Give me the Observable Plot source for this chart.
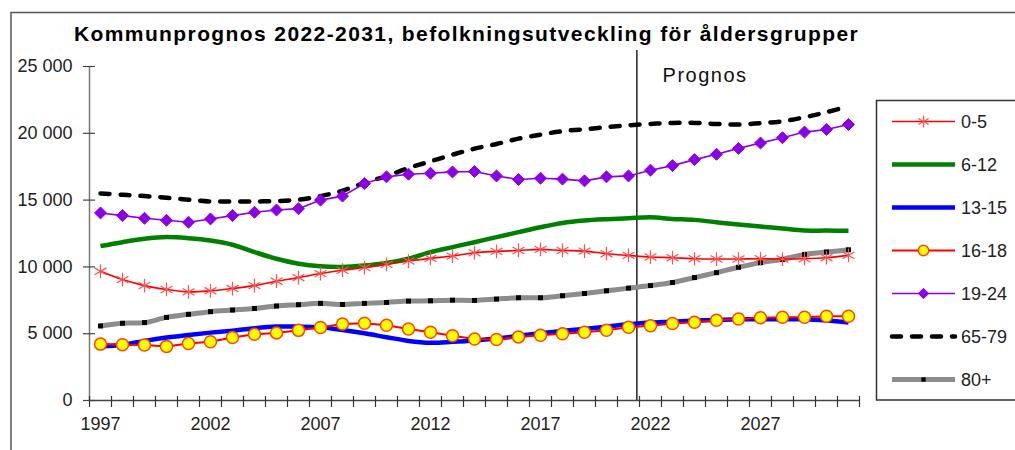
<!DOCTYPE html>
<html><head><meta charset="utf-8">
<script src="https://cdn.jsdelivr.net/npm/d3@7"></script>
<script src="https://cdn.jsdelivr.net/npm/@observablehq/plot@0.6"></script>
<style>
body{margin:0;background:#fff;}
#chart svg{display:block;overflow:visible;}
</style>
</head><body><div id="chart"></div>
<script>
// ---- data ----
const years = [1997,1998,1999,2000,2001,2002,2003,2004,2005,2006,2007,2008,2009,2010,2011,2012,2013,2014,2015,2016,2017,2018,2019,2020,2021,2022,2023,2024,2025,2026,2027,2028,2029,2030,2031];
const age0_5   = [9670,9050,8600,8310,8130,8210,8380,8600,8930,9200,9500,9750, 9950,10190,10440,10640,10810,11060,11160,11230,11310,11230,11180,10990,10860, 10740,10690,10610,10590,10590,10610,10590,10610,10690,10860];
const age6_12  = [11560,11850,12100,12230,12150,11980,11660,11110,10610,10240,10040,9990, 10100,10290,10610,11110,11480,11850,12230,12600,12970,13290,13470,13570,13640, 13710,13590,13520,13340,13170,13020,12870,12720,12720,12700];
const age13_15 = [4040,4170,4460,4710,4910,5080,5230,5410,5530,5530,5480,5280, 5030,4740,4460,4320,4390,4490,4640,4840,5030,5210,5360,5530,5700, 5830,5900,5980,6030,6080,6080,6080,6080,5980,5830];
const age16_18 = [4220,4180,4150,4050,4260,4400,4710,4960,5060,5250,5460,5730, 5780,5630,5350,5110,4850,4600,4560,4760,4890,4990,5110,5260,5480, 5600,5760,5850,6000,6100,6200,6230,6230,6300,6300];
const age19_24 = [14040,13840,13640,13490,13340,13590,13840,14090,14260,14360,15000,15300, 16240,16740,16940,17010,17110,17140,16810,16540,16640,16570,16440,16740,16810, 17240,17580,18030,18430,18870,19270,19670,20090,20290,20660];
const age65_79 = [15500,15400,15300,15180,15030,14900,14900,14900,14930,15030,15300,15700, 16300,16800,17400,17900,18400,18850,19200,19600,19900,20160,20300,20460,20600, 20700,20780,20780,20700,20660,20760,20900,21200,21580,22020];
const age80    = [5580,5780,5830,6220,6450,6650,6770,6890,7070,7170,7270,7190, 7270,7340,7440,7460,7510,7490,7590,7690,7690,7840,8010,8210,8410, 8600,8830,9200,9570,9970,10320,10560,10940,11110,11280];
const seriesNames = ["0-5","6-12","13-15","16-18","19-24","65-79","80+"];
const yTicks = [0,5000,10000,15000,20000,25000];
const xTickLabels = [1997,2002,2007,2012,2017,2022,2027];
const titleText = "Kommunprognos 2022-2031, befolkningsutveckling för åldersgrupper";
const prognosText = "Prognos";
const prognosYear = 2021.38;

// ---- styles (separate from data) ----
const styles = {
  "0-5":   {values: age0_5,   stroke:"#FF0000", width:1.6, curve:"catmull-rom", symbol:"asterisk", r:6.5, mStroke:"#FF5050", mFill:"none", mWidth:1.2},
  "6-12":  {values: age6_12,  stroke:"#008000", width:4.5, curve:"catmull-rom"},
  "13-15": {values: age13_15, stroke:"#0000FF", width:4.5, curve:"catmull-rom"},
  "16-18": {values: age16_18, stroke:"#FF0000", width:2,   curve:"linear", symbol:"circle", r:6, mStroke:"#FF4500", mFill:"#FFFF00", mWidth:1.5},
  "19-24": {values: age19_24, stroke:"#8C00E6", width:1.6, curve:"linear", symbol:"diamond2", r:5.4, mStroke:"#8C00E6", mFill:"#8C00E6", mWidth:1},
  "65-79": {values: age65_79, stroke:"#000000", width:4.5, curve:"catmull-rom", dash:"9,11", cap:"round"},
  "80+":   {values: age80,    stroke:"#8C8C8C", width:5,   curve:"catmull-rom", symbol:"square", r:2.8, mStroke:"none", mFill:"#000000", mWidth:0}
};
const drawOrder = ["80+","65-79","6-12","13-15","0-5","16-18","19-24"];
const rows = vals => years.map((year, i) => ({year, value: vals[i]}));
const fmt = d => d3.format(",")(d).replace(/,/g, " ");

const seriesMarks = [];
for (const name of drawOrder) {
  const s = styles[name];
  seriesMarks.push(Plot.line(rows(s.values), {x:"year", y:"value", stroke:s.stroke, strokeWidth:s.width, curve:s.curve,
    strokeDasharray: s.dash, strokeLinecap: s.cap || "butt", strokeLinejoin:"round"}));
  if (s.symbol) seriesMarks.push(Plot.dot(rows(s.values), {x:"year", y:"value", symbol:s.symbol, r:s.r,
    stroke:s.mStroke, fill:s.mFill, strokeWidth:s.mWidth}));
}

const xTickMarks = d3.range(1996.5, 2032, 1);
const font = "'Liberation Sans', Arial, sans-serif";

const plot = Plot.plot({
  width: 1015, height: 450,
  marginLeft: 89, marginRight: 156, marginTop: 66, marginBottom: 50,
  style: {fontFamily: font, fontSize: "18px", color: "#222", background: "#fff", overflow: "visible"},
  x: {domain: [1996.5, 2031.5]},
  y: {domain: [0, 25000]},
  marks: [
    Plot.axisY({ticks: yTicks, tickSize: 0, tickPadding: 17, tickFormat: fmt, fontSize: 18, label: null}),
    Plot.axisX({ticks: xTickLabels, tickSize: 0, tickPadding: 17, tickFormat: d => String(d), fontSize: 18, label: null}),
    Plot.ruleX([1996.5], {y1: 0, y2: 25000, stroke: "#777", strokeWidth: 1.5}),
    Plot.ruleY([0], {x1: 1996.5, x2: 2031.5, stroke: "#444", strokeWidth: 1.5}),
    Plot.ruleY(yTicks, {y: d => d, x1: 1996.5, x2: 1996.5, insetLeft: 6, insetRight: 6, stroke: "#444", strokeWidth: 1.2}),
    Plot.ruleX(xTickMarks, {x: d => d, y1: 0, y2: 0, insetTop: 7, insetBottom: 4, stroke: "#333", strokeWidth: 1.2}),
    Plot.ruleX([prognosYear], {y1: 0, y2: 26200, stroke: "#222", strokeWidth: 1.5}),
    Plot.text([prognosText], {x: 2022.55, y: 24330, text: d => d, textAnchor: "start", lineAnchor: "middle", fontSize: 20, fill: "#111"}),
    Plot.text([titleText], {frameAnchor: "top", dx: -8, dy: -32, text: d => d, lineAnchor: "middle", fontSize: 21, fontWeight: "bold", fill: "#000"}),
    ...seriesMarks
  ]
});
document.getElementById("chart").appendChild(plot);

const svg = d3.select(plot);
svg.selectAll("text").filter(function(){ return this.textContent === titleText; }).style("letter-spacing", "1.4px");
svg.selectAll("text").filter(function(){ return this.textContent === prognosText; }).style("letter-spacing", "1.5px");

// outer chart frame
svg.append("path").attr("d", "M11,452V12.5H1020").attr("fill", "none").attr("stroke", "#555").attr("stroke-width", 1.5);

// legend
const lg = svg.append("g").attr("font-family", font).attr("font-size", 18).attr("text-anchor", "start");
lg.append("rect").attr("x", 876.5).attr("y", 100.5).attr("width", 200).attr("height", 299.5)
  .attr("fill", "#fff").attr("stroke", "#333").attr("stroke-width", 1.5);
const symMap = {asterisk: d3.symbolAsterisk, circle: d3.symbolCircle, diamond2: d3.symbolDiamond2, square: d3.symbolSquare};
seriesNames.forEach((name, i) => {
  const s = styles[name];
  const y = 121.5 + i * 43;
  lg.append("line").attr("x1", 892).attr("x2", 955).attr("y1", y).attr("y2", y)
    .attr("stroke", s.stroke).attr("stroke-width", s.width)
    .attr("stroke-dasharray", s.dash || null).attr("stroke-linecap", s.cap || "butt");
  if (s.symbol) {
    lg.append("path").attr("transform", `translate(923.5,${y})`)
      .attr("d", d3.symbol(symMap[s.symbol], Math.PI * s.r * s.r * 0.75)())
      .attr("fill", s.mFill).attr("stroke", s.mStroke).attr("stroke-width", s.mWidth);
  }
  lg.append("text").attr("x", 961).attr("y", y).attr("dy", "0.35em").attr("text-anchor", "start").attr("fill", "#222").text(name);
});
</script>
</body></html>
